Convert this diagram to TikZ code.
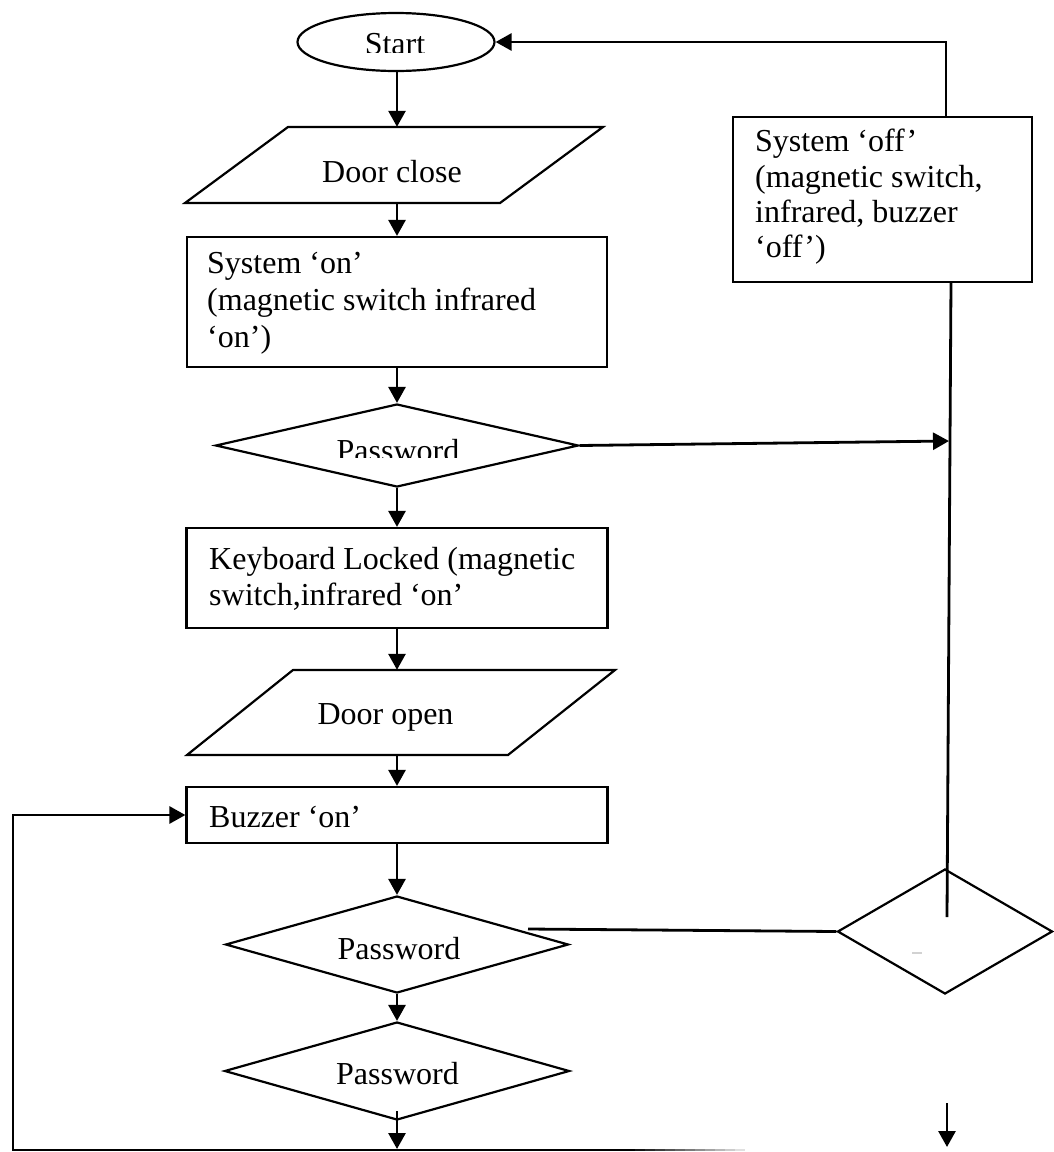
\documentclass[tikz,border=0pt]{standalone}
\usepackage{fontspec}
\setmainfont{Liberation Serif}
\usetikzlibrary{shapes.geometric,arrows.meta}
\tikzset{
  outline/.style={draw=black, line width=2.2pt},
  procbox/.style={outline, rectangle, inner sep=0pt},
  decision/.style={outline, diamond, inner sep=0pt},
  terminal/.style={outline, ellipse, inner sep=0pt},
  anchorbox/.style={rectangle, inner sep=0pt, minimum width=1pt},
  conn/.style={line width=2.8pt, -{Triangle[length=16pt,width=17pt]}},
  plainline/.style={line width=2.8pt},
  txt/.style={inner sep=0pt, font=\fontsize{32}{37}\selectfont}
}
\begin{document}
\begin{tikzpicture}[x=1pt,y=-1pt]
\useasboundingbox (0,0) rectangle (1053,1152);

% parallelograms (input/output)
\draw[outline] (288,127) -- (603,127) -- (500,203) -- (185,203) -- cycle;
\node[anchorbox, minimum height=76pt] (doorclose) at (397,165) {};
\draw[outline] (293,670) -- (615,670) -- (508,755) -- (187,755) -- cycle;
\node[anchorbox, minimum height=85pt] (dooropen) at (397,712.5) {};

% shapes
\node[terminal, minimum width=197pt, minimum height=58pt] (start) at (396,42) {};
\node[procbox, minimum width=420pt, minimum height=130pt] (syson) at (397,302) {};
\node[decision, minimum width=363pt, minimum height=83pt] (pw1) at (397,445.5) {};
\node[procbox, minimum width=421pt, minimum height=100pt] (kbd) at (397,578) {};
\node[procbox, minimum width=421pt, minimum height=56pt] (buzz) at (397,815) {};
\node[decision, minimum width=343pt, minimum height=97pt] (pw2) at (397,944.5) {};
\node[decision, minimum width=345pt, minimum height=98pt] (pw3) at (397,1071) {};
\node[procbox, minimum width=299pt, minimum height=165pt] (sysoff) at (882.5,199.5) {};
\node[decision, minimum width=215pt, minimum height=125pt] (rd) at (945,931.5) {};

% texts
\begin{scope}
  \clip (300,0) rectangle (490,52);
  \node[txt, anchor=base] (tstart) at (395,54) {Start};
\end{scope}
\node[txt, anchor=base] (tdc) at (392,182) {Door close};
\node[txt, anchor=base west] (ton1) at (207,273) {System ‘on’};
\node[txt, anchor=base west] (ton2) at (207,310) {(magnetic switch infrared};
\node[txt, anchor=base west] (ton3) at (207,347) {‘on’)};
\begin{scope}
  \clip (220,420) rectangle (580,457);
  \node[txt, anchor=base] (tpw1) at (398,461) {Password};
\end{scope}
\node[txt, anchor=base west] (tkb1) at (209,569) {Keyboard Locked (magnetic};
\node[txt, anchor=base west] (tkb2) at (209,605) {switch,infrared ‘on’};
\node[txt, anchor=base] (tdo) at (385.5,724) {Door open};
\node[txt, anchor=base west] (tbz) at (209,827) {Buzzer ‘on’};
\node[txt, anchor=base] (tpw2) at (399,959) {Password};
\node[txt, anchor=base] (tpw3) at (397.5,1084) {Password};
\node[txt, anchor=base west] (tof1) at (755,151) {System ‘off’};
\node[txt, anchor=base west] (tof2) at (755,187) {(magnetic switch,};
\node[txt, anchor=base west] (tof3) at (755,222) {infrared, buzzer};
\node[txt, anchor=base west] (tof4) at (755,257) {‘off’)};

% main column connectors
\draw[conn] (start.south -| doorclose.north) -- (doorclose.north);
\draw[conn] (doorclose.south) -- (syson.north);
\draw[conn] (syson.south) -- (pw1.north);
\draw[conn] (pw1.south) -- (kbd.north);
\draw[conn] (kbd.south) -- (dooropen.north);
\draw[conn] (dooropen.south) -- (buzz.north);
\draw[conn] (buzz.south) -- (pw2.north);
\draw[conn] (pw2.south) -- (pw3.north);

% right side
\coordinate (vtop) at (951,282);
\coordinate (vjoin) at (949,441);
\coordinate (vend) at (947,917);
\draw[plainline] (vtop) -- (vend);
\draw[conn] (pw1.east) -- (vjoin);
\coordinate (loopA) at (946,117);
\draw[conn] (loopA) |- (start.east);
\coordinate (p2r) at (528,929);
\draw[plainline] (p2r) -- (rd.west);
\draw[gray!35, line width=1.2pt] (912,953) -- (922,953);
\coordinate (r1) at (947,1103);
\coordinate (r2) at (947,1147);
\draw[conn] (r1) -- (r2);

% bottom loop
\coordinate (b1) at (397,1111);
\coordinate (b2) at (397,1149);
\draw[conn] (b1) -- (b2);
\coordinate (bl) at (625,1150);
\coordinate (lx) at (13,1150);
\draw[conn] (bl) -- (lx) |- (buzz.west);
\foreach \i in {0,...,11}{
  \pgfmathtruncatemacro{\shadeval}{100-\i*8}
  \draw[line width=2.8pt, black!\shadeval] (625+\i*10,1150) -- (635+\i*10,1150);
}
\end{tikzpicture}
\end{document}
